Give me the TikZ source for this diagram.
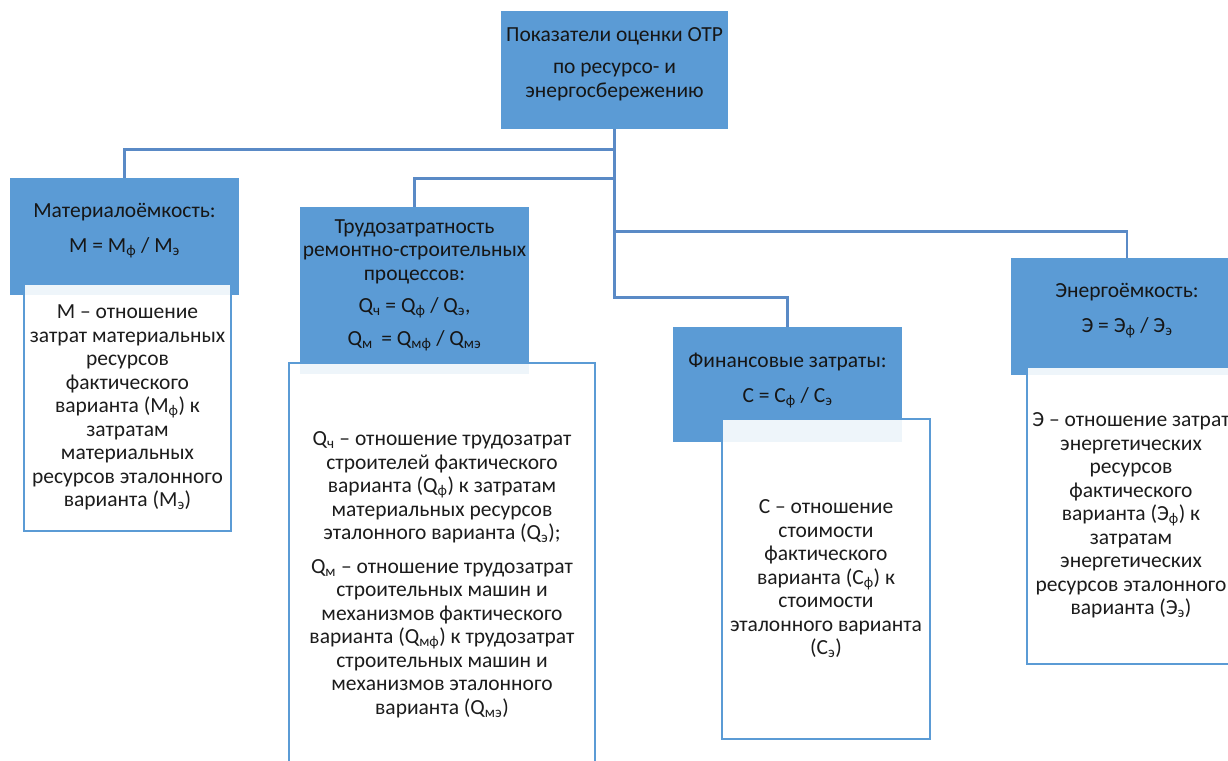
\documentclass[tikz,border=0pt]{standalone}
\usepackage{fontspec}
\setmainfont{Carlito}
\definecolor{boxblue}{HTML}{5B9BD5}
\definecolor{linecol}{HTML}{5A8AC6}
\definecolor{txtdark}{HTML}{161616}
\definecolor{txtgray}{HTML}{1C1C1C}
\newcommand\lo[1]{\textsubscript{#1}}
\begin{document}
\begin{tikzpicture}[x=1pt,y=-1pt,
  bluebox/.style={fill=boxblue, draw=none, anchor=north west, inner sep=0pt},
  whitebox/.style={fill=white, fill opacity=0.9, text opacity=1, draw=boxblue, line width=2pt,
     anchor=north west, inner sep=0pt, align=center, text=txtgray,
     font=\fontsize{21.5}{23.5}\selectfont},
  btext/.style={align=center, text=txtdark, inner sep=0pt, font=\fontsize{21.5}{23.5}\selectfont},
  conn/.style={draw=linecol, line width=2.5pt}]
\useasboundingbox (0,0) rectangle (1228,760);
\fill[white] (0,0) rectangle (1228,760);

% blue header boxes
\node[bluebox, minimum width=227pt, minimum height=118pt] (top) at (501,11) {};
\node[bluebox, minimum width=229pt, minimum height=117pt] (mat) at (10,178) {};
\node[bluebox, minimum width=229pt, minimum height=167pt] (trud) at (300,207) {};
\node[bluebox, minimum width=229pt, minimum height=115pt] (fin) at (673,327) {};
\node[bluebox, minimum width=232pt, minimum height=117pt] (en) at (1011,258) {};

% connectors
\draw[conn] (top.south) -- ++(0,20) -| (mat.north);
\draw[conn] (top.south) -- ++(0,49) -| (trud.north);
\draw[conn] (top.south) -- ++(0,102) -| (en.north);
\draw[conn] (top.south) -- ++(0,168) -| (fin.north);

% header texts
\node[btext] (topt) at (614.5,64) {Показатели оценки ОТР\\[9pt] по ресурсо- и\\ энергосбережению};
\node[btext] (matt) at (124.5,230.5) {Материалоёмкость:\\[11pt] М = М\lo{ф} / М\lo{э}};
\node[btext] (trudt) at (414.5,285) {Трудозатратность\\ ремонтно-строительных\\ процессов:\\[9pt] Q\lo{ч} = Q\lo{ф} / Q\lo{э},\\[9pt] Q\lo{м}\ \,= Q\lo{мф} / Q\lo{мэ}};
\node[btext] (fint) at (787.5,380.5) {Финансовые затраты:\\[11pt] С = С\lo{ф} / С\lo{э}};
\node[btext] (ent) at (1127,310.5) {Энергоёмкость:\\[11pt] Э = Э\lo{ф} / Э\lo{э}};

% white description boxes
\node[whitebox, minimum width=207pt, minimum height=247pt] (matw) at (23,283)
 {М – отношение\\ затрат материальных\\ ресурсов\\ фактического\\ варианта (М\lo{ф}) к\\ затратам\\ материальных\\ ресурсов эталонного\\ варианта (М\lo{э})};
\node[whitebox, minimum width=306pt, minimum height=423pt] (trudw) at (288,362)
 {Q\lo{ч} – отношение трудозатрат\\ строителей фактического\\ варианта (Q\lo{ф}) к затратам\\ материальных ресурсов\\ эталонного варианта (Q\lo{э});\\[10pt] Q\lo{м} – отношение трудозатрат\\ строительных машин и\\ механизмов фактического\\ варианта (Q\lo{мф}) к трудозатрат\\ строительных машин и\\ механизмов эталонного\\ варианта (Q\lo{мэ})};
\node[whitebox, minimum width=208pt, minimum height=320pt] (finw) at (721,418)
 {С – отношение\\ стоимости\\ фактического\\ варианта (С\lo{ф}) к\\ стоимости\\ эталонного варианта\\ (С\lo{э})};
\node[whitebox, minimum width=208pt, minimum height=297pt] (enw) at (1026,366)
 {Э – отношение затрат\\ энергетических\\ ресурсов\\ фактического\\ варианта (Э\lo{ф}) к\\ затратам\\ энергетических\\ ресурсов эталонного\\ варианта (Э\lo{э})};
\end{tikzpicture}
\end{document}
